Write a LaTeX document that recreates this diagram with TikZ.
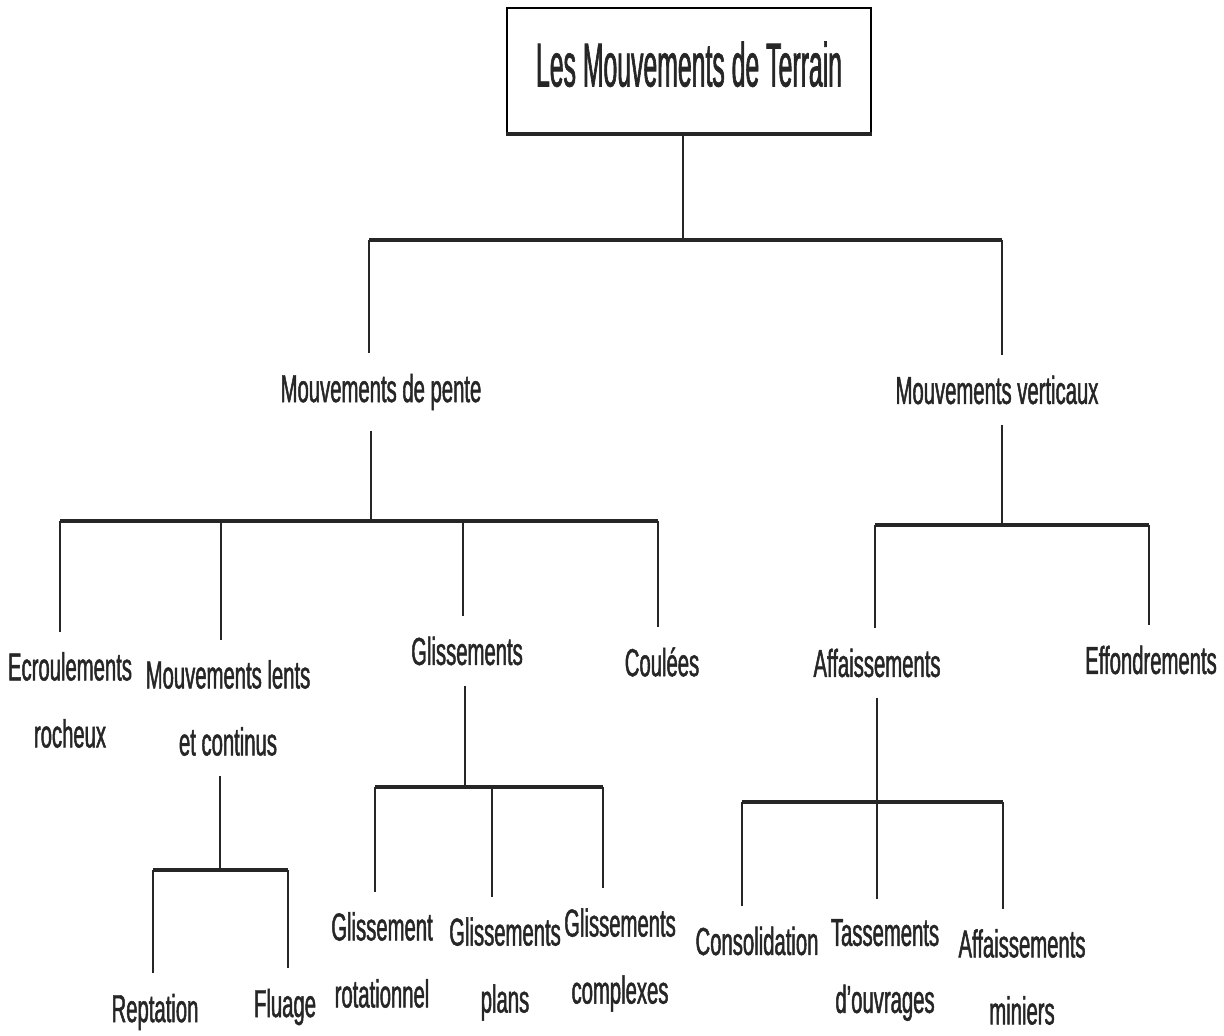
\documentclass[tikz,border=0pt]{standalone}
\usepackage{fontspec}
\setmainfont{Liberation Sans}[FakeStretch=0.52, FakeBold=1.2]
\newfontfamily\titlefont{Liberation Sans}[FakeStretch=0.40, FakeBold=1]
\usepackage{tikz}
\usetikzlibrary{positioning}

\begin{document}
\begin{tikzpicture}[
    x=0.5pt, y=-0.5pt,
    font=\fontsize{19.5}{33.5}\selectfont,
    entry/.style={align=center, inner xsep=0pt, inner ysep=10pt, text=black!85},
    stem/.style={line width=0.8pt, black!85},
    bar/.style={line width=2pt, black!85},
]
\useasboundingbox (0,0) rectangle (1224,1036);

% top box
\node[draw, line width=0.8pt, minimum width=182pt, minimum height=62.5pt, text depth=6.5pt,
      text=black!85, font=\titlefont\fontsize{31}{34}\selectfont] (root) at (689,70.5) {Les Mouvements de Terrain};
\draw[bar] (root.south west) -- (root.south east);

% level 1
\node[entry] (pente) at (381,392) {Mouvements de pente};
\node[entry] (vert) at (997,390) {Mouvements verticaux};

\coordinate (b0a) at (369,240);
\coordinate (b0m) at (683,240);
\coordinate (b0b) at (1002,240);
\draw[stem] (b0m |- root.south) -- (b0m);
\draw[bar] (b0a) -- (b0b);
\draw[stem] (b0a) -- (b0a |- pente.north);
\draw[stem] (b0b) -- (b0b |- vert.north);

% level 2
\node[entry] (ecroul) at (70,700) {Ecroulements\\rocheux};
\node[entry] (lents) at (228,708) {Mouvements lents\\et continus};
\node[entry] (gliss) at (467,651) {Glissements};
\node[entry] (coulees) at (662,662) {Coulées};
\node[entry] (affais) at (877,663) {Affaissements};
\node[entry] (effond) at (1151,660) {Effondrements};

\coordinate (b1a) at (60,521);
\coordinate (b1b) at (221,521);
\coordinate (b1m) at (371,521);
\coordinate (b1c) at (463,521);
\coordinate (b1d) at (658,521);
\draw[stem] (b1m |- pente.south) -- (b1m);
\draw[bar] (b1a) -- (b1d);
\draw[stem] (b1a) -- (b1a |- ecroul.north);
\draw[stem] (b1b) -- (b1b |- lents.north);
\draw[stem] (b1c) -- (b1c |- gliss.north);
\draw[stem] (b1d) -- (b1d |- coulees.north);

\coordinate (b2a) at (875,525);
\coordinate (b2m) at (1002,525);
\coordinate (b2b) at (1149,525);
\draw[stem] (b2m |- vert.south) -- (b2m);
\draw[bar] (b2a) -- (b2b);
\draw[stem] (b2a) -- (b2a |- affais.north);
\draw[stem] (b2b) -- (b2b |- effond.north);

% level 3
\node[entry] (rept) at (155,1012) {Reptation};
\node[entry] (fluage) at (285,1007) {Fluage};
\node[entry] (rot) at (382,960) {Glissement\\rotationnel};
\node[entry] (plans) at (505,969) {Glissements\\plans};
\node[entry] (compl) at (620,960) {Glissements\\complexes};
\node[entry] (consol) at (757,941) {Consolidation};
\node[entry] (tass) at (885,970) {Tassements\\d'ouvrages};
\node[entry] (minier) at (1022,977) {Affaissements\\miniers};

\coordinate (b3a) at (153,870);
\coordinate (b3m) at (220,870);
\coordinate (b3b) at (288,870);
\draw[stem] (b3m |- lents.south) -- (b3m);
\draw[bar] (b3a) -- (b3b);
\draw[stem] (b3a) -- (b3a |- rept.north);
\draw[stem] (b3b) -- (b3b |- fluage.north);

\coordinate (b4a) at (375,787);
\coordinate (b4m) at (465,787);
\coordinate (b4b) at (492,787);
\coordinate (b4c) at (603,787);
\draw[stem] (b4m |- gliss.south) -- (b4m);
\draw[bar] (b4a) -- (b4c);
\draw[stem] (b4a) -- (b4a |- rot.north);
\draw[stem] (b4b) -- (b4b |- plans.north);
\draw[stem] (b4c) -- (b4c |- compl.north);

\coordinate (b5a) at (742,802);
\coordinate (b5b) at (877,802);
\coordinate (b5c) at (1003,802);
\draw[stem] (b5b |- affais.south) -- (b5b);
\draw[bar] (b5a) -- (b5c);
\draw[stem] (b5a) -- (b5a |- consol.north);
\draw[stem] (b5b) -- (b5b |- tass.north);
\draw[stem] (b5c) -- (b5c |- minier.north);

\end{tikzpicture}
\end{document}
